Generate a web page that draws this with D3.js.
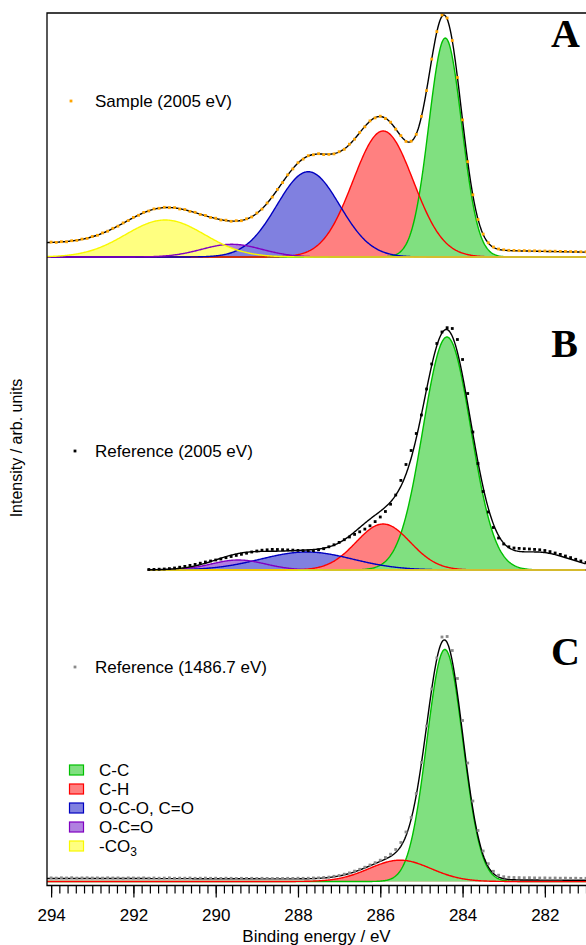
<!DOCTYPE html>
<html><head><meta charset="utf-8">
<script src="https://cdn.jsdelivr.net/npm/d3@7"></script>
<style>
body{margin:0;background:#fff}
svg text{font-family:"Liberation Sans",Arial,sans-serif;fill:#000}
</style>
</head><body>
<svg id="chart" width="586" height="945"></svg>
<script>
// ---------------- data ----------------
const componentNames = ["C-C", "C-H", "O-C-O, C=O", "O-C=O", "-CO3"];
const panelLabels = ["A", "B", "C"];
const seriesNames = ["Sample (2005 eV)", "Reference (2005 eV)", "Reference (1486.7 eV)"];
const energyTicks = [294, 292, 290, 288, 286, 284, 282];
const energyDomain = [294.1, 281.0];
const fitStart = [294.1, 291.65, 294.1];

// fitted components: centre (eV), FWHM (eV), height (arb. units)
const centersA = [284.42, 285.93, 287.75, 289.61, 291.23];
const fwhmA    = [0.94, 1.72, 1.80, 1.72, 2.26];
const heightsA = [219, 126, 85.3, 12.7, 37];
const centersB = [284.38, 285.93, 287.79, 289.45, 290.5];
const fwhmB    = [1.37, 1.55, 2.63, 1.54, 1.5];
const heightsB = [233, 46, 18, 10, 0];
const centersC = [284.43, 285.52];
const fwhmC    = [1.03, 1.77];
const heightsC = [232, 21.3];

// background under the fit envelope, 294.0 -> 281.0 eV in 0.5 eV steps
const backgroundA = [14,13.8,13.5,13,12.5,11.8,11,10.5,10,9.9,9.8,9.7,9.6,9.4,9.2,9.0,8.8,8.4,8.0,7.5,7.0,6.7,6.4,6.0,5.6,5.2,4.8];
const backgroundB = [0,0,0,0,0.1,0.2,0.3,0.4,0.5,0.5,0.6,0.6,0.7,0.8,0.9,1.2,2,10,5,4,5,8,13,17.5,18.5,12.5,6];
const backgroundC = [3,3,3,3,3,2.9,2.9,2.8,2.8,2.7,2.7,2.6,2.6,2.5,2.5,2.4,2.4,2.3,2.2,2.1,2.0,1.8,1.6,1.5,1.4,1.3,1.3];

// measured spectra (arb. units), 0.125 eV steps from the start energy towards 281 eV
const pointStart = [294.0, 291.625, 294.0];
const pointStep = 0.125;
const sampleA = [
  14.9,14.6,15.3,15.2,16.3,16.6,17.9,18.6,20.5,21.7,
  24.1,25.8,28.7,30.8,34.1,36.4,39.6,41.7,44.6,46.0,
  48.1,48.7,49.7,49.3,49.4,48.0,47.5,45.6,44.7,42.5,
  41.6,39.5,38.8,37.0,36.8,35.7,36.3,36.3,38.2,40.0,
  44.0,47.9,54.0,59.9,67.6,74.4,82.2,88.1,94.3,97.9,
  101.3,102.2,103.3,102.4,102.6,103.1,105.3,107.7,112.8,117.8,
  124.6,130.2,136.1,139.1,140.8,138.5,134.8,127.8,121.4,115.6,
  115.8,122.7,140.6,166.4,197.9,225.4,242.0,239.0,216.5,179.5,
  137.1,95.3,62.2,37.5,22.9,14.3,10.0,8.0,7.2,6.7,
  6.6,6.3,6.4,6.1,6.2,5.9,6.0,5.8,5.8,5.6,
  5.6,5.4,5.4,5.2,5.2];
const referenceB = [
  0.5,0.6,0.8,1.0,1.4,2.0,2.8,3.6,4.6,5.6,
  6.8,8.0,9.0,10.0,11.0,12.3,13.5,14.6,15.7,16.8,
  18.0,19.0,19.8,20.2,20.6,20.5,20.3,20.1,19.9,19.6,
  19.4,19.3,19.4,20.2,21.3,23.2,25.2,27.6,30.3,33.0,
  35.6,38.2,40.9,44.2,48.4,53.0,58.5,65.8,75.0,89.6,
  105.5,119.5,136.5,155.0,181.0,206.0,226.5,238.0,242.3,241.5,
  230.5,210.5,176.5,138.0,106.5,78.5,58.0,42.5,32.0,26.0,
  23.2,22.0,21.6,21.3,21.0,20.6,20.2,19.5,18.4,17.0,
  15.6,14.0,12.4,10.7,9.0,7.5];
const referenceC = [
  3.6,3.4,3.7,3.5,3.8,3.4,3.6,3.7,3.5,3.6,
  3.4,3.7,3.5,3.6,3.3,3.6,3.5,3.4,3.6,3.3,
  3.5,3.3,3.4,3.6,3.2,3.4,3.3,3.5,3.2,3.3,
  3.4,3.2,3.3,3.1,3.3,3.2,3.0,3.2,3.1,3.2,
  3.0,3.2,3.1,2.9,3.1,3.0,3.2,3.1,3.3,3.2,
  3.3,3.5,3.6,4.0,4.4,5.2,6.0,7.3,8.6,10.4,
  12.2,14.3,16.5,18.8,21.3,24.0,27.3,32.0,39.0,49.5,
  64.0,88.0,119.0,155.5,192.5,223.5,244.5,245.0,231.0,203.0,
  161.0,118.5,80.5,51.0,30.5,17.8,10.2,6.3,4.8,4.2,
  4.0,3.9,3.7,3.8,3.6,3.5,3.6,3.4,3.5,3.3,
  3.4,3.2,3.3,3.1,3.2];

// ---------------- styles ----------------
const fillColors   = ["#80e080", "#ff8080", "#8080e0", "#b080e0", "#ffff80"];
const strokeColors = ["#00c000", "#ff0000", "#0000c0", "#8000c0", "#f8f800"];
const dotColors    = ["#ffa500", "#000000", "#8a8a8a"];

// ---------------- layout ----------------
const W = 586;
const frameLeft = 47, frameTop = 13, frameBottom = 885.5;
const baselines = [257, 570, 881.5];
const panelHeight = 244;

const svg = d3.select("#chart");
const x = d3.scaleLinear().domain(energyDomain).range([frameLeft, W]);

const panels = [
  {c: centersA, w: fwhmA, h: heightsA, bg: backgroundA, pts: sampleA},
  {c: centersB, w: fwhmB, h: heightsB, bg: backgroundB, pts: referenceB},
  {c: centersC, w: fwhmC, h: heightsC, bg: backgroundC, pts: referenceC}
];

function peak(E, c, w, h) { return h * Math.exp(-4 * Math.LN2 * ((E - c) / w) ** 2); }

svg.append("defs").append("clipPath").attr("id", "plotClip")
  .append("rect").attr("x", frameLeft).attr("y", frameTop).attr("width", W - frameLeft).attr("height", frameBottom - frameTop);

const plot = svg.append("g").attr("clip-path", "url(#plotClip)");

panels.forEach((p, pi) => {
  const y = d3.scaleLinear().domain([0, panelHeight]).range([baselines[pi], baselines[pi] - panelHeight]);
  const bgInterp = d3.interpolateBasis(p.bg);
  const bgAt = E => bgInterp(Math.max(0, Math.min(1, (294 - E) / 13)));
  const grid = d3.range(fitStart[pi], energyDomain[1] - 0.001, -0.02);
  const comps = p.c.map((c, i) => grid.map(E => ({E, v: peak(E, c, p.w[i], p.h[i])})));
  const total = grid.map(E => ({E, v: p.c.reduce((s, c, i) => s + peak(E, c, p.w[i], p.h[i]), 0) + bgAt(E)}));

  const g = plot.append("g");
  const area = d3.area().x(d => x(d.E)).y0(y(0)).y1(d => y(d.v));
  const line = d3.line().x(d => x(d.E)).y(d => y(d.v));
  const fillOrder = [3, 4, 2, 1, 0].filter(i => i < comps.length);
  fillOrder.forEach(i => g.append("path").attr("d", area(comps[i])).attr("fill", fillColors[i]));
  comps.forEach((cd, i) => g.append("path").attr("d", line(cd)).attr("fill", "none")
    .attr("stroke", strokeColors[i]).attr("stroke-width", 1.4));
  g.append("path").attr("d", line(total)).attr("fill", "none").attr("stroke", "#000").attr("stroke-width", 1.4);

  const dots = p.pts.map((v, i) => ({E: pointStart[pi] - i * pointStep, v}));
  g.selectAll("rect.dot").data(dots).enter().append("rect").attr("class", "dot")
    .attr("x", d => x(d.E) - 1.4).attr("y", d => y(d.v) - 1.4).attr("width", 2.8).attr("height", 2.8)
    .attr("fill", dotColors[pi]);
});

// frame
svg.append("path").attr("fill", "none").attr("stroke", "#000").attr("stroke-width", 1.3)
  .attr("d", d3.line()([[W, frameTop], [frameLeft, frameTop], [frameLeft, frameBottom], [W, frameBottom]]));

// axis
const minorTicks = d3.range(0, 66).map(i => +(294 - i * 0.2).toFixed(1));
const axMinor = svg.append("g").attr("transform", `translate(0,${frameBottom})`)
  .call(d3.axisBottom(x).tickValues(minorTicks).tickSize(8).tickFormat(""));
axMinor.select(".domain").remove();
const axMajor = svg.append("g").attr("transform", `translate(0,${frameBottom})`)
  .call(d3.axisBottom(x).tickValues(energyTicks).tickSize(12).tickPadding(11).tickFormat(d3.format("d")));
axMajor.select(".domain").remove();
svg.selectAll(".tick line").attr("stroke", "#000").attr("stroke-width", 1.2);
axMajor.selectAll("text").attr("font-size", 17).attr("font-family", "Liberation Sans, Arial, sans-serif");

svg.append("text").attr("x", (frameLeft + W) / 2).attr("y", 942).attr("text-anchor", "middle")
  .attr("font-size", 17).text("Binding energy / eV");
svg.append("text").attr("transform", "translate(22,448) rotate(-90)").attr("text-anchor", "middle")
  .attr("font-size", 16).text("Intensity / arb. units");

// panel letters
const letterPos = [[580, 47], [578, 357], [580, 665]];
panelLabels.forEach((t, i) => svg.append("text").attr("x", letterPos[i][0]).attr("y", letterPos[i][1])
  .attr("text-anchor", "end").attr("font-size", 40).attr("font-weight", "bold")
  .style("font-family", "'Liberation Serif','Times New Roman',serif").text(t));

// series legends
const seriesPos = [[71, 101], [75, 451], [75, 667]];
seriesNames.forEach((t, i) => {
  svg.append("rect").attr("x", seriesPos[i][0] - 1.4).attr("y", seriesPos[i][1] - 1.4)
    .attr("width", 2.8).attr("height", 2.8).attr("fill", dotColors[i]);
  svg.append("text").attr("x", 95).attr("y", seriesPos[i][1] + 6).attr("font-size", 17).text(t);
});

// component legend
componentNames.forEach((t, i) => {
  const cy = 770 + i * 19;
  svg.append("rect").attr("x", 69.5).attr("y", cy - 5).attr("width", 14).attr("height", 10)
    .attr("fill", fillColors[i]).attr("stroke", strokeColors[i]).attr("stroke-width", 1.2);
  const tx = svg.append("text").attr("x", 99).attr("y", cy + 6).attr("font-size", 17);
  if (t.endsWith("3")) {
    tx.text(t.slice(0, -1));
    tx.append("tspan").attr("dy", 4).attr("font-size", 12).text("3");
  } else tx.text(t);
});
</script>
</body></html>
